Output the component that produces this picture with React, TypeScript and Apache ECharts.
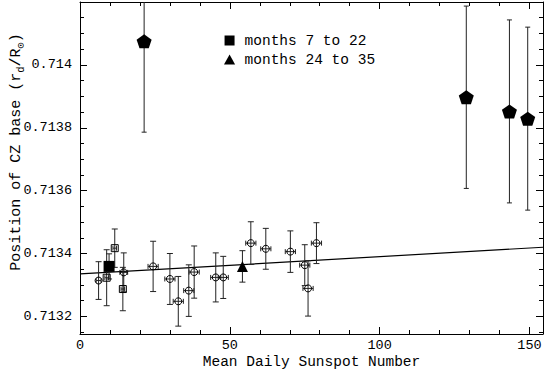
import React, { useEffect, useRef } from 'react';
import * as echarts from 'echarts';

const FONT = '"Liberation Mono", "DejaVu Sans Mono", monospace';

// Individual measurements (hollow circles)
const circleX = [6.2, 14.6, 24.4, 30.0, 32.8, 36.3, 38.1, 45.3, 47.8, 57.0, 62.0, 70.2, 75.0, 76.1, 78.9];
const circleY = [0.713314, 0.71334, 0.713359, 0.713319, 0.713248, 0.713282, 0.713341, 0.713324, 0.713324, 0.713433, 0.713415, 0.713406, 0.713363, 0.713289, 0.713433];
const circleYErr = [0.00006, 0.000062, 0.00008, 0.000081, 0.000079, 0.000082, 0.000083, 0.000078, 0.000067, 0.000068, 0.000065, 0.000066, 0.000065, 0.000088, 0.000065];
const circleXErr = [0.8, 1.3, 1.7, 1.7, 1.7, 1.7, 1.7, 1.7, 1.7, 1.7, 1.7, 1.7, 1.7, 1.7, 1.7];

// Individual measurements (hollow squares)
const squareX = [11.6, 8.9, 14.3];
const squareY = [0.713417, 0.713323, 0.713287];
const squareYErr = [0.000061, 0.000089, 0.000069];
const squareXErr = [0.6, 0.6, 0.6];

// Averages
const m7X = [9.7];
const m7Y = [0.713359];
const m7YErr = [0.00004];
const m24X = [54.2];
const m24Y = [0.713359];
const m24YErr = [0.00005];

// Pentagons
const pentX = [21.4, 128.9, 143.3, 149.4];
const pentY = [0.714075, 0.713897, 0.713852, 0.713829];
const pentYErr = [0.000289, 0.00029, 0.000291, 0.000291];

// Fitted trend line
const trendX = [0, 154.5];
const trendY = [0.713335, 0.71342];

const X_MIN = 0;
const X_MAX = 154.5;
const Y_MIN = 0.713144;
const Y_MAX = 0.7142;

const PENTAGON = 'path://M0,-1L0.951,-0.309L0.588,0.809L-0.588,0.809L-0.951,-0.309Z';

function pack(xs: number[], ys: number[], eys: number[], exs?: number[]) {
  return xs.map((x, i) => [x, ys[i], eys[i], exs ? exs[i] : 0]);
}

const makeErrRender = (capW: number) => (params: any, api: any) => {
  const x = api.value(0);
  const y = api.value(1);
  const ey = api.value(2);
  const ex = api.value(3);
  const cs = params.coordSys;
  const top = cs.y;
  const bottom = cs.y + cs.height;
  const c = api.coord([x, y]);
  const p1 = api.coord([x, y + ey]);
  const p2 = api.coord([x, y - ey]);
  const style = { stroke: '#222', lineWidth: 1, fill: null };
  const children: any[] = [];
  const y1 = Math.max(p1[1], top);
  const y2 = Math.min(p2[1], bottom);
  children.push({ type: 'line', shape: { x1: c[0], y1, x2: c[0], y2 }, style });
  if (p1[1] >= top) {
    children.push({ type: 'line', shape: { x1: c[0] - capW / 2, y1: p1[1], x2: c[0] + capW / 2, y2: p1[1] }, style });
  }
  if (p2[1] <= bottom) {
    children.push({ type: 'line', shape: { x1: c[0] - capW / 2, y1: p2[1], x2: c[0] + capW / 2, y2: p2[1] }, style });
  }
  if (ex > 0) {
    const q1 = api.coord([x - ex, y]);
    const q2 = api.coord([x + ex, y]);
    children.push({ type: 'line', shape: { x1: q1[0], y1: c[1], x2: q2[0], y2: c[1] }, style });
    children.push({ type: 'line', shape: { x1: q1[0], y1: c[1] - 2.5, x2: q1[0], y2: c[1] + 2.5 }, style });
    children.push({ type: 'line', shape: { x1: q2[0], y1: c[1] - 2.5, x2: q2[0], y2: c[1] + 2.5 }, style });
  }
  return { type: 'group', children };
};

const axisCommon = {
  type: 'value' as const,
  splitLine: { show: false },
  axisLine: { show: true, onZero: false, lineStyle: { color: '#000', width: 1 } },
  axisTick: { show: true, inside: true, length: 7, lineStyle: { color: '#000', width: 1 } },
  minorTick: { show: true, length: 4, lineStyle: { color: '#000', width: 1 } },
  minorSplitLine: { show: false },
};

const labelStyle = { color: '#000', fontFamily: FONT, fontSize: 13.5 };

const isMult = (v: number, step: number) => Math.abs(v / step - Math.round(v / step)) < 1e-6;

export default function App() {
  const ref = useRef<HTMLDivElement>(null);
  useEffect(() => {
    if (!ref.current) return;
    const chart = echarts.init(ref.current, null, { renderer: 'svg' });
    const xAxisBase = {
      ...axisCommon,
      min: X_MIN,
      max: X_MAX,
      minInterval: 50,
      maxInterval: 50,
      minorTick: { ...axisCommon.minorTick, splitNumber: 5 },
    };
    const yAxisBase = {
      ...axisCommon,
      min: Y_MIN,
      max: Y_MAX,
      scale: true,
      minInterval: 0.0002,
      maxInterval: 0.0002,
      minorTick: { ...axisCommon.minorTick, splitNumber: 4 },
    };
    chart.setOption({
      animation: false,
      backgroundColor: '#fff',
      textStyle: { fontFamily: FONT },
      grid: { left: 80, right: 2, top: 2, bottom: 43, containLabel: false, outerBoundsMode: 'none' },
      legend: {
        data: [
          { name: 'months 7 to 22', icon: 'path://M0,0L10,0L10,10L0,10Z' },
          { name: 'months 24 to 35', icon: 'path://M5,0L10,9L0,9Z' },
        ],
        orient: 'vertical',
        left: 219,
        top: 28,
        itemWidth: 20,
        itemHeight: 10,
        itemGap: 4,
        selectedMode: false,
        textStyle: { color: '#000', fontFamily: FONT, fontSize: 14.5 },
      },
      xAxis: [
        {
          ...xAxisBase,
          position: 'bottom',
          axisLabel: {
            ...labelStyle,
            margin: 4,
            formatter: (v: number) => (isMult(v, 50) ? String(v) : ''),
          },
          name: 'Mean Daily Sunspot Number',
          nameLocation: 'middle',
          nameGap: 20,
          nameMoveOverlap: false,
          nameTextStyle: { color: '#000', fontFamily: FONT, fontSize: 14.5 },
        },
        {
          ...xAxisBase,
          position: 'top',
          axisLabel: { show: false },
        },
      ],
      yAxis: [
        {
          ...yAxisBase,
          position: 'left',
          axisLabel: {
            ...labelStyle,
            margin: 8,
            formatter: (v: number) =>
              isMult(v, 0.0002) && v < 0.71415 ? String(parseFloat(v.toFixed(4))) : '',
          },
          name: '{t|Position of CZ base (r}{s|d}{t|/R}{s|⊙}{t|)}',
          nameLocation: 'middle',
          nameGap: 54,
          nameMoveOverlap: false,
          nameTextStyle: {
            color: '#000',
            fontFamily: FONT,
            fontSize: 15,
            padding: [0, 0, 0, 32],
            rich: {
              t: { fontFamily: FONT, fontSize: 15, color: '#000', lineHeight: 20 },
              s: { fontFamily: FONT, fontSize: 10.5, color: '#000', lineHeight: 12, verticalAlign: 'bottom' },
            },
          },
        },
        {
          ...yAxisBase,
          position: 'right',
          axisLabel: { show: false },
        },
      ],
      series: [
        {
          type: 'line',
          name: 'trend',
          data: trendX.map((x, i) => [x, trendY[i]]),
          showSymbol: false,
          silent: true,
          lineStyle: { color: '#000', width: 1.2 },
          z: 2,
        },
        {
          type: 'custom',
          name: 'err-circles',
          data: pack(circleX, circleY, circleYErr, circleXErr),
          encode: { x: 0, y: 1 },
          renderItem: makeErrRender(6),
          silent: true,
          z: 3,
        },
        {
          type: 'custom',
          name: 'err-squares',
          data: pack(squareX, squareY, squareYErr, squareXErr),
          encode: { x: 0, y: 1 },
          renderItem: makeErrRender(6),
          silent: true,
          z: 3,
        },
        {
          type: 'custom',
          name: 'err-avg',
          data: [...pack(m7X, m7Y, m7YErr), ...pack(m24X, m24Y, m24YErr)],
          encode: { x: 0, y: 1 },
          renderItem: makeErrRender(6),
          silent: true,
          z: 3,
        },
        {
          type: 'custom',
          name: 'err-pent',
          data: pack(pentX, pentY, pentYErr),
          encode: { x: 0, y: 1 },
          renderItem: makeErrRender(5),
          silent: true,
          z: 3,
        },
        {
          type: 'scatter',
          name: 'circles',
          data: circleX.map((x, i) => [x, circleY[i]]),
          symbol: 'circle',
          symbolSize: 7,
          silent: true,
          itemStyle: { color: 'rgba(0,0,0,0)', borderColor: '#000', borderWidth: 1, opacity: 1 },
          z: 4,
        },
        {
          type: 'scatter',
          name: 'squares',
          data: squareX.map((x, i) => [x, squareY[i]]),
          symbol: 'rect',
          symbolSize: 7,
          silent: true,
          itemStyle: { color: 'rgba(0,0,0,0)', borderColor: '#000', borderWidth: 1, opacity: 1 },
          z: 4,
        },
        {
          type: 'scatter',
          name: 'months 7 to 22',
          data: m7X.map((x, i) => [x, m7Y[i]]),
          symbol: 'rect',
          symbolSize: 11,
          silent: true,
          itemStyle: { color: '#000', opacity: 1 },
          z: 5,
        },
        {
          type: 'scatter',
          name: 'months 24 to 35',
          data: m24X.map((x, i) => [x, m24Y[i]]),
          symbol: 'triangle',
          symbolSize: 11,
          silent: true,
          itemStyle: { color: '#000', opacity: 1 },
          z: 5,
        },
        {
          type: 'scatter',
          name: 'pentagons',
          data: pentX.map((x, i) => [x, pentY[i]]),
          symbol: PENTAGON,
          symbolSize: [15, 14],
          silent: true,
          itemStyle: { color: '#000', opacity: 1 },
          z: 5,
        },
      ],
    });
    return () => chart.dispose();
  }, []);
  return <div ref={ref} style={{ position: 'fixed', left: 0, top: 0, width: 545, height: 377 }} />;
}
